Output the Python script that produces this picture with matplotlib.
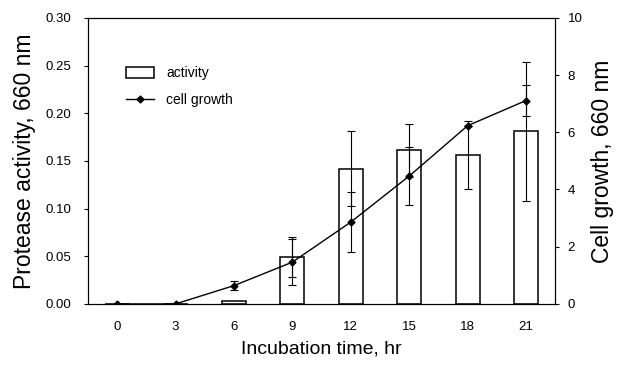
import matplotlib.pyplot as plt
import numpy as np
from matplotlib.lines import Line2D
from matplotlib.patches import Patch

plt.rcParams['font.family'] = ['Liberation Sans', 'DejaVu Sans']

hours = [0, 3, 6, 9, 12, 15, 18, 21]
activity = [0.0, 0.0, 0.003, 0.049, 0.142, 0.161, 0.156, 0.181]
activity_err = [0.0, 0.0, 0.0, 0.021, 0.039, 0.028, 0.036, 0.073]
growth = [0.0, 0.0, 0.64, 1.46, 2.86, 4.47, 6.23, 7.11]
growth_err = [0.0, 0.0, 0.15, 0.8, 1.05, 1.0, 0.0, 0.55]

x = np.arange(len(hours))

fig = plt.figure(figsize=(6.19, 3.72), dpi=100)
ax = fig.add_axes([0.142, 0.183, 0.755, 0.769])
ax2 = ax.twinx()

ax.bar(x, activity, width=0.41, color='white', edgecolor='black', linewidth=1.1, zorder=2)
ax.errorbar(x[3:], activity[3:], yerr=activity_err[3:], fmt='none', ecolor='black',
            elinewidth=0.8, capsize=3, capthick=0.8, zorder=3)

ax2.errorbar(x, growth, yerr=growth_err, color='black', marker='D', markersize=3.5,
             linewidth=1.0, elinewidth=0.8, capsize=3, capthick=0.8)

ax.set_xlim(-0.5, 7.5)
ax.set_ylim(0, 0.30)
ax2.set_ylim(0, 10)
ax.set_xticks(x)
ax.set_xticklabels([str(h) for h in hours])
ax.set_yticks(np.arange(0, 0.31, 0.05))
ax.set_yticklabels(['%.2f' % v for v in np.arange(0, 0.31, 0.05)])
ax2.set_yticks(range(0, 11, 2))

ax.tick_params(axis='x', length=0, labelsize=9.5, pad=12)
ax.tick_params(axis='y', direction='out', length=3, labelsize=9.5, pad=9)
ax2.tick_params(axis='y', direction='out', length=3, labelsize=9.5, pad=6)

ax.set_xlabel('Incubation time, hr', fontsize=14, labelpad=6)
ax.set_ylabel('Protease activity, 660 nm', fontsize=16.5, labelpad=7)
ax2.set_ylabel('Cell growth, 660 nm', fontsize=16.5, labelpad=6)

handles = [Patch(facecolor='white', edgecolor='black', linewidth=1.1),
           Line2D([], [], color='black', marker='D', markersize=3.5, linewidth=1.0)]
ax2.legend(handles, ['activity', 'cell growth'], loc='upper left',
           bbox_to_anchor=(0.055, 0.875), frameon=False, fontsize=10,
           handlelength=2.0, handleheight=0.9, labelspacing=0.95, handletextpad=0.9)

fig.savefig('out.png', dpi=100)
